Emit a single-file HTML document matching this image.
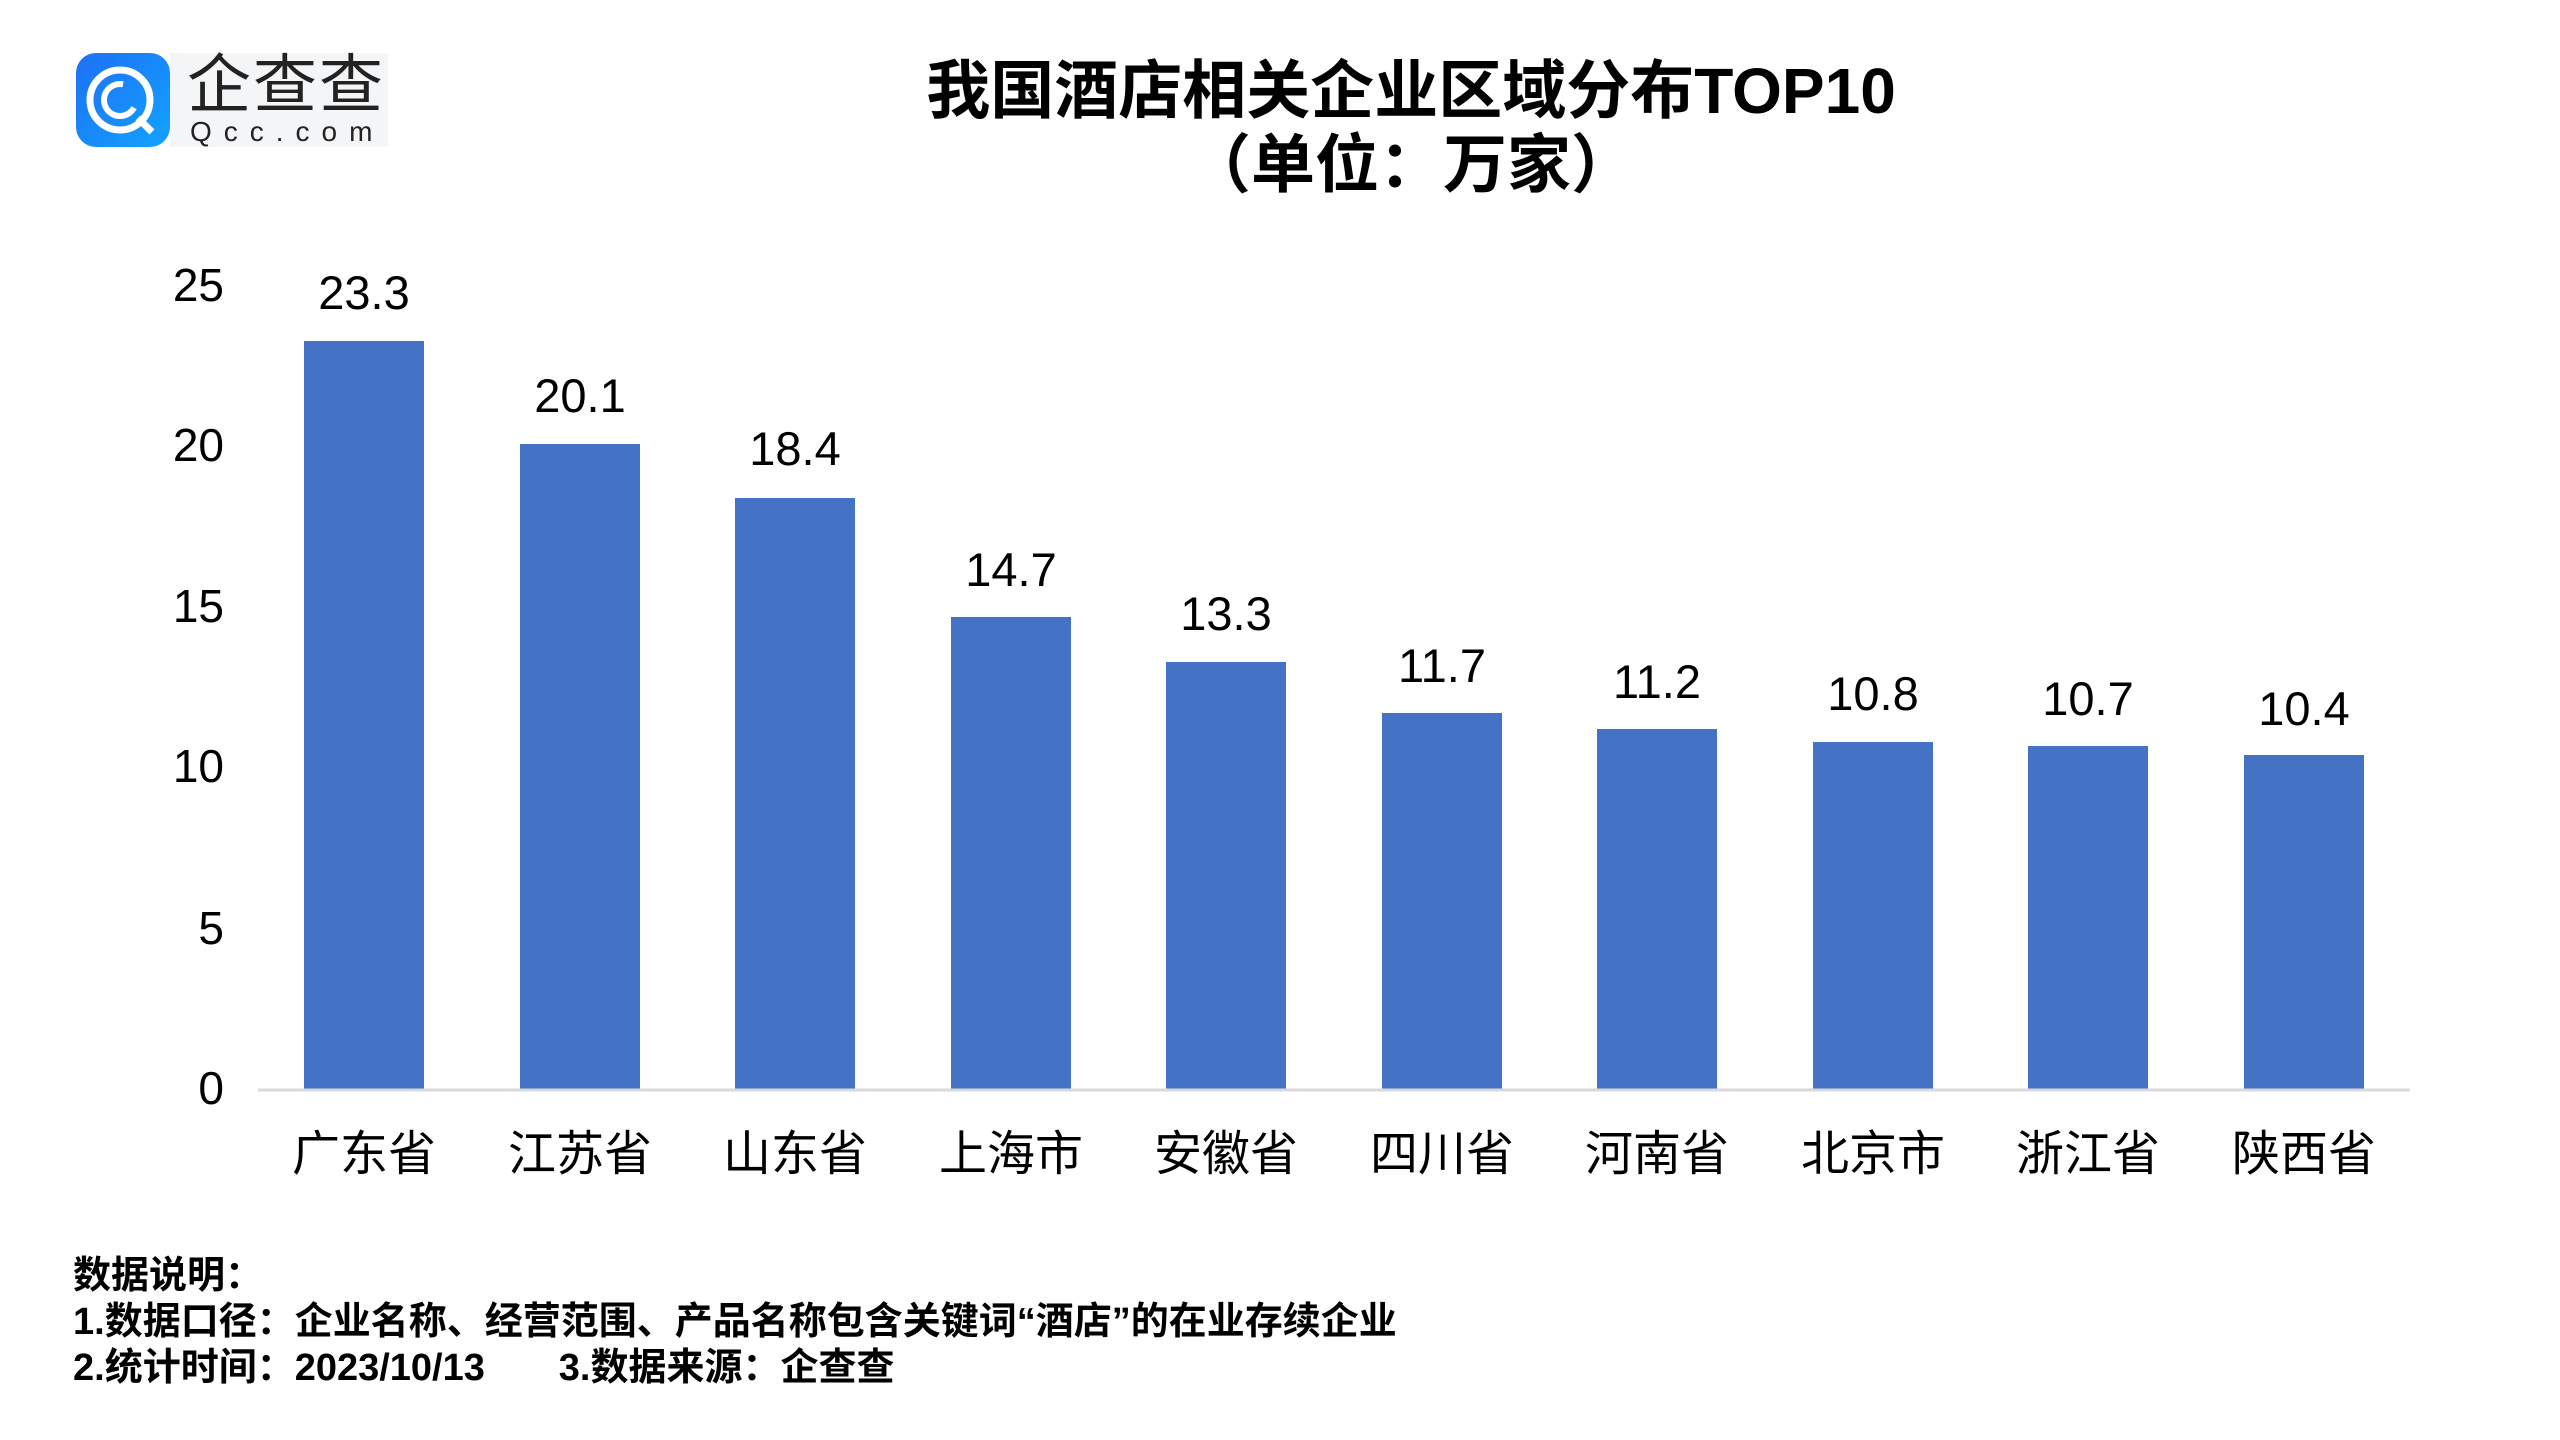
<!DOCTYPE html>
<html><head><meta charset="utf-8"><style>
body{margin:0;width:2560px;height:1440px;background:#fff;position:relative;overflow:hidden;font-family:"Liberation Sans","Noto Sans CJK SC",sans-serif;color:#000}
.a{position:absolute;white-space:nowrap}
</style></head><body>
<svg class="a" style="left:0;top:0" width="2560" height="1440">
<defs><linearGradient id="g" x1="0" y1="0" x2="1" y2="1"><stop offset="0" stop-color="#1e6ff5"/><stop offset="1" stop-color="#12a3ff"/></linearGradient></defs>
<rect x="76" y="53" width="94" height="94" rx="20" fill="url(#g)"/>
<rect x="170" y="53" width="218" height="94" fill="#f4f5f7"/>
<circle cx="120" cy="100" r="30" fill="none" stroke="#fff" stroke-width="7"/>
<circle cx="120" cy="100" r="16" fill="none" stroke="#fff" stroke-width="6" stroke-dasharray="70 30" transform="rotate(30 120 100)"/>
<line x1="138" y1="118" x2="152" y2="132" stroke="#fff" stroke-width="7"/>
<g fill="#4472c4">
<rect x="304" y="341" width="120" height="748"/>
<rect x="520" y="444" width="120" height="645"/>
<rect x="735" y="498" width="120" height="591"/>
<rect x="951" y="617" width="120" height="472"/>
<rect x="1166" y="662" width="120" height="427"/>
<rect x="1382" y="713" width="120" height="376"/>
<rect x="1597" y="729" width="120" height="360"/>
<rect x="1813" y="742" width="120" height="347"/>
<rect x="2028" y="746" width="120" height="343"/>
<rect x="2244" y="755" width="120" height="334"/>
</g>
<line x1="258" y1="1090" x2="2410" y2="1090" stroke="#d9d9d9" stroke-width="3"/>
<g font-size="46" text-anchor="end" font-family="Liberation Sans, sans-serif">
<text x="224" y="301">25</text><text x="224" y="461">20</text><text x="224" y="622">15</text>
<text x="224" y="782">10</text><text x="224" y="944">5</text><text x="224" y="1104">0</text>
</g>
<g font-size="47" text-anchor="middle" font-family="Liberation Sans, sans-serif">
<text x="364" y="309">23.3</text><text x="580" y="412">20.1</text><text x="795" y="465">18.4</text>
<text x="1011" y="586">14.7</text><text x="1226" y="630">13.3</text><text x="1442" y="682">11.7</text>
<text x="1657" y="698">11.2</text><text x="1873" y="710">10.8</text><text x="2088" y="715">10.7</text>
<text x="2304" y="725">10.4</text>
</g>
<g font-size="48" text-anchor="middle" font-family="Liberation Sans, Noto Sans CJK SC, sans-serif">
<text x="364" y="1170">广东省</text><text x="580" y="1170">江苏省</text><text x="795" y="1170">山东省</text>
<text x="1011" y="1170">上海市</text><text x="1226" y="1170">安徽省</text><text x="1442" y="1170">四川省</text>
<text x="1657" y="1170">河南省</text><text x="1873" y="1170">北京市</text><text x="2088" y="1170">浙江省</text>
<text x="2304" y="1170">陕西省</text>
</g>
</svg>
<div class="a" style="left:187px;top:50px;font-size:64px;line-height:70px;letter-spacing:2px;color:#222">企查查</div>
<div class="a" style="left:190px;top:116px;font-size:28px;line-height:32px;letter-spacing:12px;color:#222">Qcc.com</div>
<div class="a" style="left:0;width:2822px;text-align:center;top:54px;font-size:64px;line-height:74px;font-weight:bold">我国酒店相关企业区域分布TOP10<br>（单位：万家）</div>
<div class="a" style="left:73px;top:1253px;font-size:38px;line-height:46px;font-weight:bold">数据说明：<br>1.数据口径：企业名称、经营范围、产品名称包含关键词“酒店”的在业存续企业<br>2.统计时间：2023/10/13&nbsp;&nbsp;&nbsp;&nbsp;&nbsp;&nbsp;&nbsp;3.数据来源：企查查</div>
</body></html>
